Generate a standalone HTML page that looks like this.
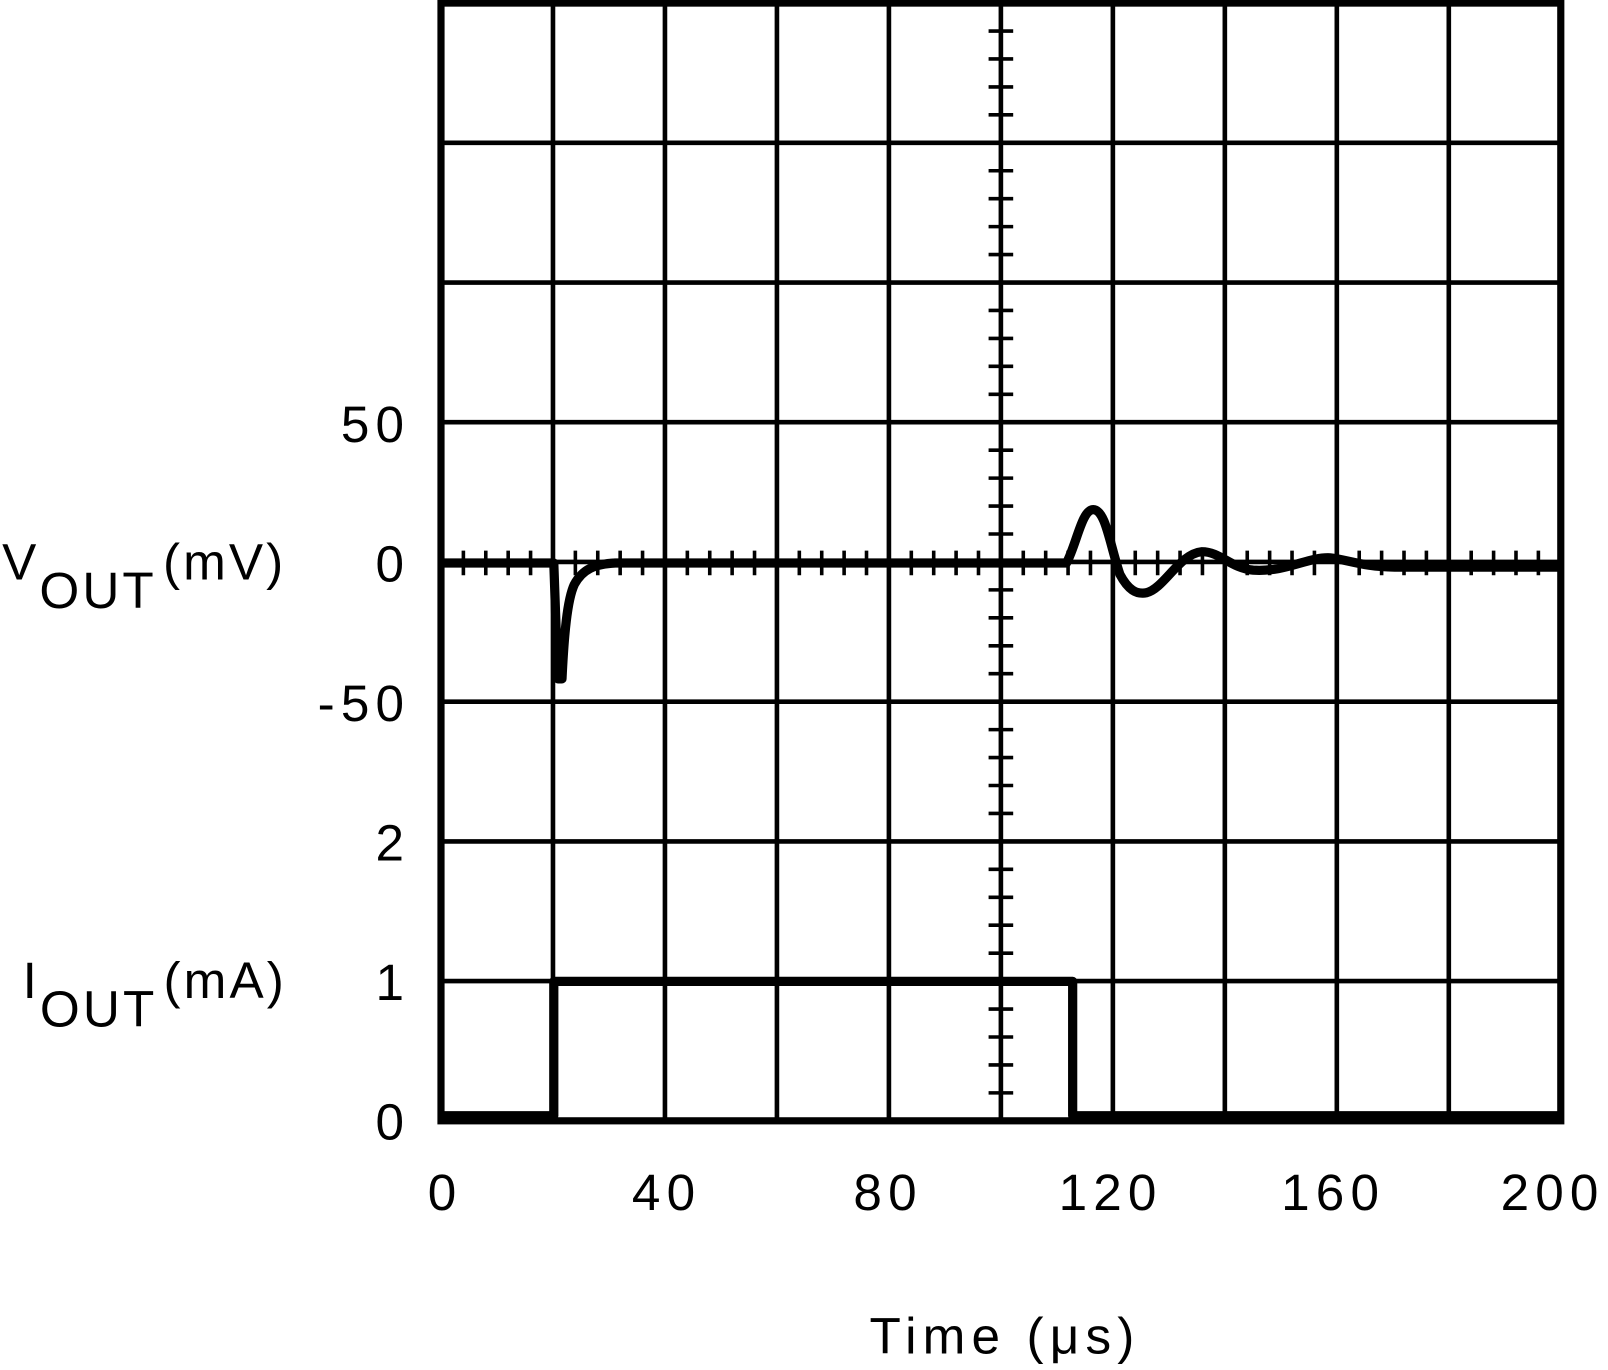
<!DOCTYPE html>
<html><head><style>html,body{margin:0;padding:0;background:#fff}svg{display:block}
text{font-family:"Liberation Sans",sans-serif;fill:#000;font-size:50px;letter-spacing:6px}
.yl{letter-spacing:3px}</style></head>
<body>
<svg width="1608" height="1370" viewBox="0 0 1568 1336" xmlns="http://www.w3.org/2000/svg">
<g stroke="#000" stroke-width="4.5" fill="none">
<path d="M539.2 3V1093M648.4 3V1093M757.6 3V1093M866.8 3V1093M976 3V1093M1085.2 3V1093M1194.4 3V1093M1303.6 3V1093M1412.8 3V1093"/>
<path d="M430 139.25H1522M430 275.5H1522M430 411.75H1522M430 548H1522M430 684.25H1522M430 820.5H1522M430 956.75H1522"/>
<rect x="430" y="3" width="1092" height="1090" stroke-width="7"/>
</g>
<g id="ticks" stroke="#000" stroke-width="3.5"></g>
<g fill="none" stroke="#000" stroke-width="9" stroke-linejoin="round">
<path d="M430 549H540L544 662L548 662C550 620 553 585 560 570C568 555 580 550 600 549H1040C1050 530 1055 497 1066 497C1078 497 1082 530 1092 560C1100 575 1108 580 1118 578C1135 574 1150 540 1172 538C1190 538 1200 554 1222 556C1255 558 1275 543 1297 544C1315 546 1330 553 1360 553H1522"/>
<path d="M430 1088H540V957H1046V1088H1522"/>
</g>
<text x="400" y="431" text-anchor="end">50</text>
<text x="400" y="567" text-anchor="end">0</text>
<text x="400" y="703" text-anchor="end">-50</text>
<text x="400" y="839" text-anchor="end">2</text>
<text x="400" y="975" text-anchor="end">1</text>
<text x="400" y="1111" text-anchor="end">0</text>
<text class="yl" x="2" y="565">V<tspan dy="28">OUT</tspan><tspan dy="-28" dx="6">(mV)</tspan></text>
<text class="yl" x="22" y="973">I<tspan dy="28">OUT</tspan><tspan dy="-28" dx="6">(mA)</tspan></text>
<text x="434" y="1180" text-anchor="middle">0</text>
<text x="650" y="1180" text-anchor="middle">40</text>
<text x="866" y="1180" text-anchor="middle">80</text>
<text x="1083" y="1180" text-anchor="middle">120</text>
<text x="1300" y="1180" text-anchor="middle">160</text>
<text x="1514" y="1180" text-anchor="middle">200</text>
<text x="980" y="1320" text-anchor="middle">Time (μs)</text>
</svg>
<script>
var g=document.getElementById('ticks'),ns='http://www.w3.org/2000/svg',d='';
for(var i=1;i<40;i++){var y=3+i*27.25;if(i%5)d+='M964 '+y+'H988';}
for(var j=1;j<50;j++){var x=430+j*21.84;if(j%5)d+='M'+x+' 537V561';}
var p=document.createElementNS(ns,'path');p.setAttribute('d',d);g.appendChild(p);
</script>
</body></html>
